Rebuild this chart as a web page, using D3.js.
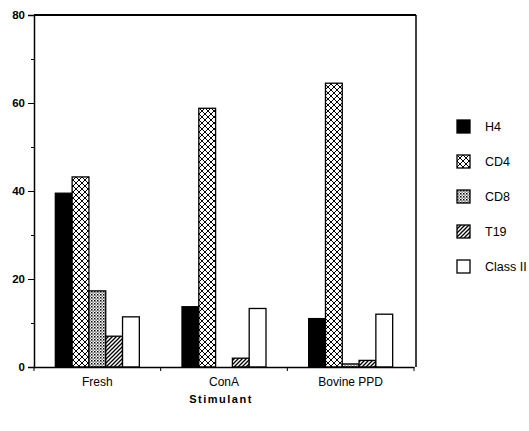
<!DOCTYPE html>
<html>
<head>
<meta charset="utf-8">
<script src="https://cdn.jsdelivr.net/npm/d3@7"></script>
<style>
	body { margin: 0; background: #fff; }
	svg { font-family: 'Liberation Sans', Arial, sans-serif; }
</style>
</head>
<body>
<div id="chart"><svg width="529" height="431"></svg></div>
<script>
var categories = ['Fresh', 'ConA', 'Bovine PPD'];
var series = ['H4', 'CD4', 'CD8', 'T19', 'Class II'];
var h4 = [39.5, 13.7, 11];
var cd4 = [43.2, 58.8, 64.5];
var cd8 = [17.3, 0, 0.7];
var t19 = [7, 2, 1.5];
var classII = [11.4, 13.3, 12];
var yTicks = [0, 20, 40, 60, 80];
var yMinorTicks = [10, 30, 50, 70];

var values = [h4, cd4, cd8, t19, classII];
var fills = ['#000', 'url(#cross)', 'url(#dots)', 'url(#hatch)', '#fff'];

var margin = { top: 15, left: 34, right: 115, bottom: 64 };
var svg = d3.select('#chart > svg');
var width = 529 - margin.left - margin.right;
var height = 431 - margin.top - margin.bottom;

// patterns
var defs = svg.append('defs');
var cross = defs.append('pattern')
	.attr('id', 'cross')
	.attr('patternUnits', 'userSpaceOnUse')
	.attr('width', 6).attr('height', 6);
cross.append('rect').attr('width', 6).attr('height', 6).attr('fill', '#fff');
cross.append('path')
	.attr('d', 'M0,0L6,6M6,0L0,6')
	.attr('stroke', '#000').attr('stroke-width', 1);

var dots = defs.append('pattern')
	.attr('id', 'dots')
	.attr('patternUnits', 'userSpaceOnUse')
	.attr('width', 3).attr('height', 3);
dots.append('rect').attr('width', 3).attr('height', 3).attr('fill', '#fff');
dots.append('rect').attr('x', 0).attr('y', 0).attr('width', 1.5).attr('height', 1.5).attr('fill', '#000');
dots.append('rect').attr('x', 1.5).attr('y', 1.5).attr('width', 1.2).attr('height', 1.2).attr('fill', '#222');

var hatch = defs.append('pattern')
	.attr('id', 'hatch')
	.attr('patternUnits', 'userSpaceOnUse')
	.attr('width', 4).attr('height', 4);
hatch.append('rect').attr('width', 4).attr('height', 4).attr('fill', '#fff');
hatch.append('path')
	.attr('d', 'M-1,1L1,-1M0,4L4,0M3,5L5,3')
	.attr('stroke', '#000').attr('stroke-width', 1.3);

var group = svg.append('g')
	.attr('transform', 'translate(' + [ margin.left, margin.top ] + ')');

var x0 = d3.scaleBand()
	.domain(categories)
	.range([ 0, width ]);
var x1 = d3.scaleBand()
	.domain(series)
	.range([ 0, x0.bandwidth() ])
	.paddingOuter(1.27);
var yScale = d3.scaleLinear()
	.domain([ 0, 80 ])
	.range([ height, 0 ]);

// bars
series.forEach(function(s, i) {
	group.append('g')
		.selectAll('rect')
		.data(values[i])
		.enter()
		.append('rect')
		.attr('x', function(d, j) { return x0(categories[j]) + x1(s) })
		.attr('y', function(d) { return yScale(d) })
		.attr('width', x1.bandwidth())
		.attr('height', function(d) { return height - yScale(d) })
		.attr('fill', fills[i])
		.attr('stroke', function(d) { return d > 0 ? '#000' : 'none' })
		.attr('stroke-width', 1.3);
});

// frame
group.append('line')
	.attr('x1', 0).attr('x2', width + 2)
	.attr('y1', 0).attr('y2', 0)
	.attr('stroke', '#000').attr('stroke-width', 2);
group.append('line')
	.attr('x1', width + 2).attr('x2', width + 2)
	.attr('y1', 0).attr('y2', height)
	.attr('stroke', '#000').attr('stroke-width', 1.5);

// y axis
var yAxis = group.append('g')
	.call(d3.axisLeft(yScale).tickValues(yTicks).tickSize(6).tickPadding(3));
yAxis.selectAll('text')
	.style('font-size', '11.5px')
	.style('font-weight', 'bold')
	.attr('fill', '#000');
group.append('g')
	.call(d3.axisLeft(yScale).tickValues(yMinorTicks).tickSize(3).tickFormat(''))
	.select('.domain').remove();

// x axis
var xAxis = group.append('g')
	.attr('transform', 'translate(0,' + height + ')')
	.call(d3.axisBottom(x0).tickSize(0).tickPadding(10));
xAxis.selectAll('text')
	.style('font-size', '12px')
	.attr('fill', '#000');
xAxis.append('g')
	.selectAll('line')
	.data([0].concat(categories.map(function(c) { return x0(c) + x0.bandwidth() })))
	.enter()
	.append('line')
	.attr('x1', function(d) { return d }).attr('x2', function(d) { return d })
	.attr('y1', 0).attr('y2', 4)
	.attr('stroke', '#000');
group.selectAll('.domain')
	.attr('stroke', '#000')
	.attr('stroke-width', 1.5);

// axis title
svg.append('text')
	.attr('x', 221)
	.attr('y', 403)
	.attr('text-anchor', 'middle')
	.style('font-size', '11px')
	.style('font-weight', 'bold')
	.style('letter-spacing', '1.5px')
	.text('Stimulant');

// legend
var legend = svg.append('g')
	.attr('transform', 'translate(457,120)');
var legendItem = legend.selectAll('g')
	.data(series)
	.enter()
	.append('g')
	.attr('transform', function(d, i) { return 'translate(0,' + i * 35 + ')' });
legendItem.append('rect')
	.attr('width', 13).attr('height', 13)
	.attr('fill', function(d, i) { return fills[i] })
	.attr('stroke', '#000').attr('stroke-width', 1.3);
legendItem.append('text')
	.attr('x', 28).attr('y', 11)
	.style('font-size', '12.5px')
	.text(function(d) { return d });
</script>
</body>
</html>
